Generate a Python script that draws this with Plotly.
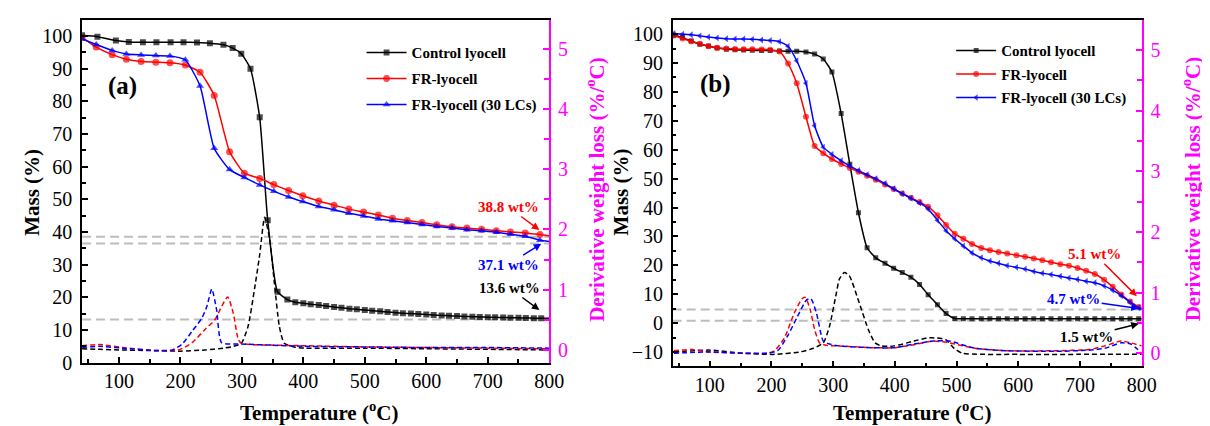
import plotly.graph_objects as go

# ---------------- Panel (a) data ----------------
a_temp_fr = [40, 63, 89, 112, 136, 160, 183, 208, 232, 255, 280, 304, 329, 352, 376, 399,
             425, 450, 474, 498, 522, 545, 569, 593, 617, 642, 666, 690, 714, 737, 761, 785, 800]
a_mass_fr = [99.6, 96.6, 94.3, 92.9, 92.2, 92.0, 91.8, 91.1, 88.9, 81.8, 64.6, 58.0, 56.4, 54.5, 52.7, 51.1,
             49.5, 48.2, 47.0, 46.1, 45.2, 44.2, 43.5, 42.9, 42.2, 41.6, 41.2, 40.8, 40.4, 40.0, 39.7, 39.2, 38.8]
a_mass_fr30 = [99.1, 97.4, 95.6, 94.5, 94.2, 94.0, 93.9, 92.7, 84.7, 65.6, 59.1, 56.7, 54.4, 52.5, 50.7, 49.3,
               47.8, 46.8, 45.7, 44.9, 44.0, 43.4, 42.9, 42.3, 41.7, 41.2, 40.7, 40.4, 39.9, 39.3, 38.7, 37.5, 37.1]
a_temp_ctrl = [40, 65, 95, 116, 139, 161, 184, 205, 227, 248, 270, 285, 299, 314, 329, 342, 358, 374, 387,
               400, 412, 425, 437, 450, 462, 475, 487, 500, 512, 525, 537, 550, 562, 575, 587, 600, 612,
               625, 637, 650, 662, 675, 687, 700, 712, 725, 737, 750, 762, 775, 787, 800]
a_mass_ctrl = [100.2, 99.8, 98.6, 98.2, 98.1, 98.1, 98.1, 98.1, 98.0, 97.8, 97.3, 96.3, 94.6, 90.0, 75.1, 43.6, 21.7, 19.3, 18.5,
               18.2, 17.9, 17.6, 17.3, 17.0, 16.8, 16.5, 16.3, 16.1, 15.9, 15.7, 15.5, 15.3, 15.1, 15.0, 14.85, 14.7, 14.6,
               14.45, 14.35, 14.25, 14.15, 14.05, 14.0, 13.9, 13.85, 13.8, 13.75, 13.7, 13.65, 13.6, 13.6, 13.6]

a_dtemp_ctrl = [40, 70, 100, 150, 200, 240, 270, 283, 299, 310, 321, 329, 337, 345, 353, 361, 369, 385, 402, 500, 600, 700, 800]
a_deriv_ctrl = [0.02, 0.01, 0.0, -0.01, -0.02, 0.0, 0.03, 0.05, 0.11, 0.39, 1.04, 1.58, 2.2, 1.85, 1.1, 0.39, 0.11, 0.05, 0.03, 0.03, 0.02, 0.01, 0.0]
a_dtemp_fr = [40, 68, 106, 160, 197, 219, 240, 256, 267, 277, 286, 294, 299, 348, 402, 500, 600, 700, 800]
a_deriv_fr = [0.07, 0.09, 0.04, -0.01, 0.0, 0.12, 0.34, 0.5, 0.72, 0.88, 0.61, 0.18, 0.11, 0.08, 0.07, 0.05, 0.04, 0.03, 0.02]
a_dtemp_fr30 = [40, 68, 106, 160, 187, 203, 219, 235, 243, 251, 259, 267, 294, 348, 402, 500, 600, 700, 800]
a_deriv_fr30 = [0.04, 0.06, 0.03, -0.01, 0.0, 0.1, 0.31, 0.53, 0.72, 1.01, 0.66, 0.12, 0.1, 0.08, 0.06, 0.05, 0.04, 0.04, 0.03]

a_ref_lines = [38.5, 36.5, 13.2]

# ---------------- Panel (b) data ----------------
b_temp = [42, 56, 70, 84, 98, 112, 127, 141, 155, 169, 184, 198, 213, 227, 241, 256, 270, 284, 298, 313,
          327, 341, 355, 369, 384, 398, 412, 426, 440, 454, 469, 483, 497, 511, 525, 540, 554, 568, 582, 597,
          611, 625, 639, 653, 668, 682, 696, 710, 724, 739, 753, 767, 781, 795, 800]
b_mass_ctrl = [99.6, 98.8, 97.6, 96.5, 95.9, 95.2, 94.8, 94.6, 94.5, 94.4, 94.3, 94.3, 94.2, 94.1, 94.1,
               93.8, 93.1, 91.4, 86.9, 72.5, 55.0, 38.2, 26.1, 22.6, 20.7, 19.0, 17.5, 15.9, 13.4, 9.8,
               6.4, 3.3, 1.6, 1.5, 1.5, 1.5, 1.5, 1.5, 1.5, 1.5, 1.5, 1.5, 1.5, 1.5, 1.5,
               1.5, 1.5, 1.5, 1.5, 1.5, 1.5, 1.5, 1.5, 1.5, 1.5]
b_mass_fr = [99.5, 98.5, 97.5, 96.7, 95.8, 95.3, 95.0, 94.9, 94.8, 94.8, 94.7, 94.6, 94.0, 89.8, 83.0,
             71.4, 61.3, 58.8, 56.8, 55.1, 53.7, 52.4, 51.0, 49.6, 48.0, 46.4, 44.9, 43.4, 41.9, 40.3,
             37.3, 34.0, 30.9, 29.2, 27.4, 26.0, 25.2, 24.6, 24.1, 23.5, 23.0, 22.4, 21.8, 21.1, 20.4,
             19.9, 19.1, 18.1, 17.0, 15.0, 12.6, 9.9, 7.5, 5.6, 5.1]
b_mass_fr30 = [100.2, 100.0, 99.8, 99.4, 99.0, 98.7, 98.4, 98.3, 98.3, 98.2, 98.0, 97.8, 97.4, 95.8, 90.8,
               83.0, 68.3, 60.9, 58.4, 56.2, 54.3, 52.8, 51.4, 50.0, 48.3, 46.5, 44.8, 43.2, 41.6, 39.5,
               35.6, 32.0, 29.2, 26.7, 24.3, 22.6, 21.5, 20.7, 19.9, 19.3, 18.7, 17.9, 17.3, 16.8, 16.2,
               15.6, 15.1, 14.5, 14.0, 12.9, 11.4, 9.5, 7.2, 5.3, 4.7]

b_dtemp_ctrl = [42, 100, 152, 205, 246, 268, 284, 294, 305, 310, 318, 326, 341, 357, 368, 378, 399, 431, 452, 467, 483, 496, 509, 600, 700, 800]
b_deriv_ctrl = [0.02, 0.05, 0.0, -0.02, 0.02, 0.08, 0.17, 0.44, 0.98, 1.22, 1.33, 1.28, 0.87, 0.39, 0.17, 0.12, 0.12, 0.2, 0.25, 0.25, 0.22, 0.08, 0.0, -0.02, -0.02, -0.02]
b_dtemp_fr = [42, 73, 100, 152, 194, 205, 221, 237, 250, 255, 263, 270, 278, 289, 310, 362, 399, 431, 462, 488, 530, 583, 662, 714, 740, 767, 782, 800]
b_deriv_fr = [0.04, 0.06, 0.02, 0.0, 0.0, 0.04, 0.25, 0.66, 0.9, 0.92, 0.71, 0.39, 0.17, 0.13, 0.12, 0.09, 0.09, 0.14, 0.2, 0.17, 0.08, 0.04, 0.04, 0.06, 0.12, 0.2, 0.17, 0.12]
b_dtemp_fr30 = [42, 100, 152, 194, 210, 226, 242, 257, 264, 273, 284, 294, 310, 362, 399, 431, 462, 488, 530, 583, 662, 714, 740, 767, 782, 800]
b_deriv_fr30 = [0.0, 0.02, 0.0, 0.0, 0.04, 0.28, 0.6, 0.88, 0.9, 0.66, 0.2, 0.15, 0.12, 0.09, 0.09, 0.15, 0.2, 0.2, 0.08, 0.04, 0.03, 0.05, 0.08, 0.17, 0.15, 0.0]

b_ref_lines = [4.7, 0.8]

series_names = ["Control lyocell", "FR-lyocell", "FR-lyocell (30 LCs)"]

# ---------------- styles ----------------
FONT = "Liberation Serif"
BLACK, RED, BLUE, MAG = "#000000", "#FF0000", "#0000FF", "#FF00FF"
W, H = 1210, 426

fig = go.Figure()


def add_mass(T, M, name, color, symbol, msize, xa, ya, legend):
    sizes = [msize] * (len(T) - 1) + [0]
    fig.add_trace(go.Scatter(
        x=T, y=M, mode="lines+markers", name="<b>" + name + "</b>",
        line=dict(color=color, width=1.5, shape="spline", smoothing=0.5),
        marker=dict(symbol=symbol, size=sizes, color=color, line=dict(width=0)),
        xaxis=xa, yaxis=ya, legend=legend, legendgroup=legend + name))


def add_deriv(T, D, color, xa, ya):
    fig.add_trace(go.Scatter(
        x=T, y=D, mode="lines", showlegend=False, hoverinfo="skip",
        line=dict(color=color, width=1.5, dash="5px,3px", shape="spline", smoothing=0.6),
        xaxis=xa, yaxis=ya))


# derivative curves first (behind)
add_deriv(a_dtemp_ctrl, a_deriv_ctrl, BLACK, "x", "y2")
add_deriv(a_dtemp_fr, a_deriv_fr, RED, "x", "y2")
add_deriv(a_dtemp_fr30, a_deriv_fr30, BLUE, "x", "y2")
add_deriv(b_dtemp_ctrl, b_deriv_ctrl, BLACK, "x2", "y4")
add_deriv(b_dtemp_fr, b_deriv_fr, RED, "x2", "y4")
add_deriv(b_dtemp_fr30, b_deriv_fr30, BLUE, "x2", "y4")

add_mass(a_temp_ctrl, a_mass_ctrl, series_names[0], BLACK, "square", 6, "x", "y", "legend")
add_mass(a_temp_fr, a_mass_fr, series_names[1], RED, "circle", 7, "x", "y", "legend")
add_mass(a_temp_fr, a_mass_fr30, series_names[2], BLUE, "triangle-up", 7, "x", "y", "legend")
add_mass(b_temp, b_mass_ctrl, series_names[0], BLACK, "square", 5, "x2", "y3", "legend2")
add_mass(b_temp, b_mass_fr, series_names[1], RED, "circle", 6, "x2", "y3", "legend2")
add_mass(b_temp, b_mass_fr30, series_names[2], BLUE, "triangle-left", 6, "x2", "y3", "legend2")

shapes = []
for v in a_ref_lines:
    shapes.append(dict(type="line", xref="x", yref="y", x0=40, x1=800, y0=v, y1=v, layer="below",
                       line=dict(color="#BDBDBD", width=2, dash="9px,5px")))
for v in b_ref_lines:
    shapes.append(dict(type="line", xref="x2", yref="y3", x0=40, x1=800, y0=v, y1=v, layer="below",
                       line=dict(color="#BDBDBD", width=2, dash="9px,5px")))


def px_x(p):
    return p / W


def px_y(p):
    return 1 - p / H


TICKFONT = 20


def xaxis_cfg(dom, anchor):
    return dict(domain=dom, anchor=anchor, range=[40, 800], tick0=0, dtick=100,
                ticks="inside", ticklen=6, tickwidth=1.5, tickcolor=BLACK,
                showline=True, linecolor=BLACK, linewidth=1.5, mirror=True,
                showgrid=False, zeroline=False,
                tickfont=dict(family=FONT, size=TICKFONT, color=BLACK),
                minor=dict(dtick=50, ticks="inside", ticklen=4, tickwidth=1.5, tickcolor=BLACK, showgrid=False))


def yleft_cfg(dom, anchor, rng):
    return dict(domain=dom, anchor=anchor, range=rng, tick0=0, dtick=10,
                ticks="inside", ticklen=6, tickwidth=1.5, tickcolor=BLACK,
                showline=True, linecolor=BLACK, linewidth=1.5,
                showgrid=False, zeroline=False, ticklabelstandoff=4,
                tickfont=dict(family=FONT, size=TICKFONT, color=BLACK),
                minor=dict(dtick=5, ticks="inside", ticklen=4, tickwidth=1.5, tickcolor=BLACK, showgrid=False))


def yright_cfg(overlay, anchor, rng):
    return dict(overlaying=overlay, anchor=anchor, side="right", range=rng, tick0=0, dtick=1,
                ticks="inside", ticklen=6, tickwidth=1.5, tickcolor=MAG,
                showline=True, linecolor=MAG, linewidth=1.5,
                showgrid=False, zeroline=False, ticklabelstandoff=3,
                tickfont=dict(family=FONT, size=TICKFONT, color=MAG),
                minor=dict(dtick=0.5, ticks="inside", ticklen=5, tickwidth=1.5, tickcolor=MAG, showgrid=False))


xa_dom = [px_x(75), px_x(548)]
xb_dom = [px_x(673), px_x(1148)]
ya_dom = [px_y(364), px_y(12)]
yb_dom = [px_y(368), px_y(12)]

annots = []


def txt(x, y, s, size, color=BLACK, angle=0, xanchor="center"):
    annots.append(dict(x=px_x(x), y=px_y(y), xref="paper", yref="paper", text=s, showarrow=False,
                       textangle=angle, xanchor=xanchor, yanchor="middle",
                       font=dict(family=FONT, size=size, color=color)))


TITLE = 21
txt(24, 189, "<b>Mass (%)</b>", TITLE, angle=-90)
txt(595, 186, "<b>Derivative weight loss (%/<sup>o</sup>C)</b>", TITLE, MAG, angle=-90)
txt(315, 414, "<b>Temperature (<sup>o</sup>C)</b>", TITLE)
txt(621, 189, "<b>Mass (%)</b>", TITLE, angle=-90)
txt(1198, 186, "<b>Derivative weight loss (%/<sup>o</sup>C)</b>", TITLE, MAG, angle=-90)
txt(915, 414, "<b>Temperature (<sup>o</sup>C)</b>", TITLE)
txt(116, 80, "<b>(a)</b>", 25)
txt(716, 78, "<b>(b)</b>", 25)


def arrow(xref, yref, x, y, ax, ay, s, color):
    annots.append(dict(x=x, y=y, xref=xref, yref=yref, ax=ax, ay=ay, axref="pixel", ayref="pixel",
                       text="<b>" + s + "</b>", showarrow=True, arrowhead=2, arrowsize=1, arrowwidth=1.5,
                       arrowcolor=color, font=dict(family=FONT, size=15, color=color)))


arrow("x", "y", 784, 40.6, -31, -23, "38.8 wt%", RED)
arrow("x", "y", 787, 36.4, -33, 21, "37.1 wt%", BLUE)
arrow("x", "y", 784, 16.1, -30, -22, "13.6 wt%", BLACK)
arrow("x2", "y3", 792, 9.3, -42, -42, "5.1 wt%", RED)
arrow("x2", "y3", 795, 5.1, -65, -9, "4.7 wt%", BLUE)
arrow("x2", "y3", 795, -0.2, -52, 13, "1.5 wt%", BLACK)

legend_common = dict(xanchor="left", yanchor="top", bgcolor="rgba(0,0,0,0)", borderwidth=0,
                     font=dict(family=FONT, size=15, color=BLACK), itemwidth=40)

fig.update_layout(
    width=W, height=H, margin=dict(l=0, r=0, t=0, b=0),
    paper_bgcolor="white", plot_bgcolor="white",
    font=dict(family=FONT, size=15, color=BLACK),
    xaxis=xaxis_cfg(xa_dom, "y"),
    yaxis=yleft_cfg(ya_dom, "x", [0, 105]),
    yaxis2=yright_cfg("y", "x", [-0.21, 5.48]),
    xaxis2=xaxis_cfg(xb_dom, "y3"),
    yaxis3=yleft_cfg(yb_dom, "x2", [-15, 105]),
    yaxis4=yright_cfg("y3", "x2", [-0.22, 5.5]),
    legend=dict(x=px_x(358), y=px_y(29), tracegroupgap=3.5, **legend_common),
    legend2=dict(x=px_x(955), y=px_y(27), tracegroupgap=1, **legend_common),
    shapes=shapes, annotations=annots,
)

fig.write_html("out.html")
